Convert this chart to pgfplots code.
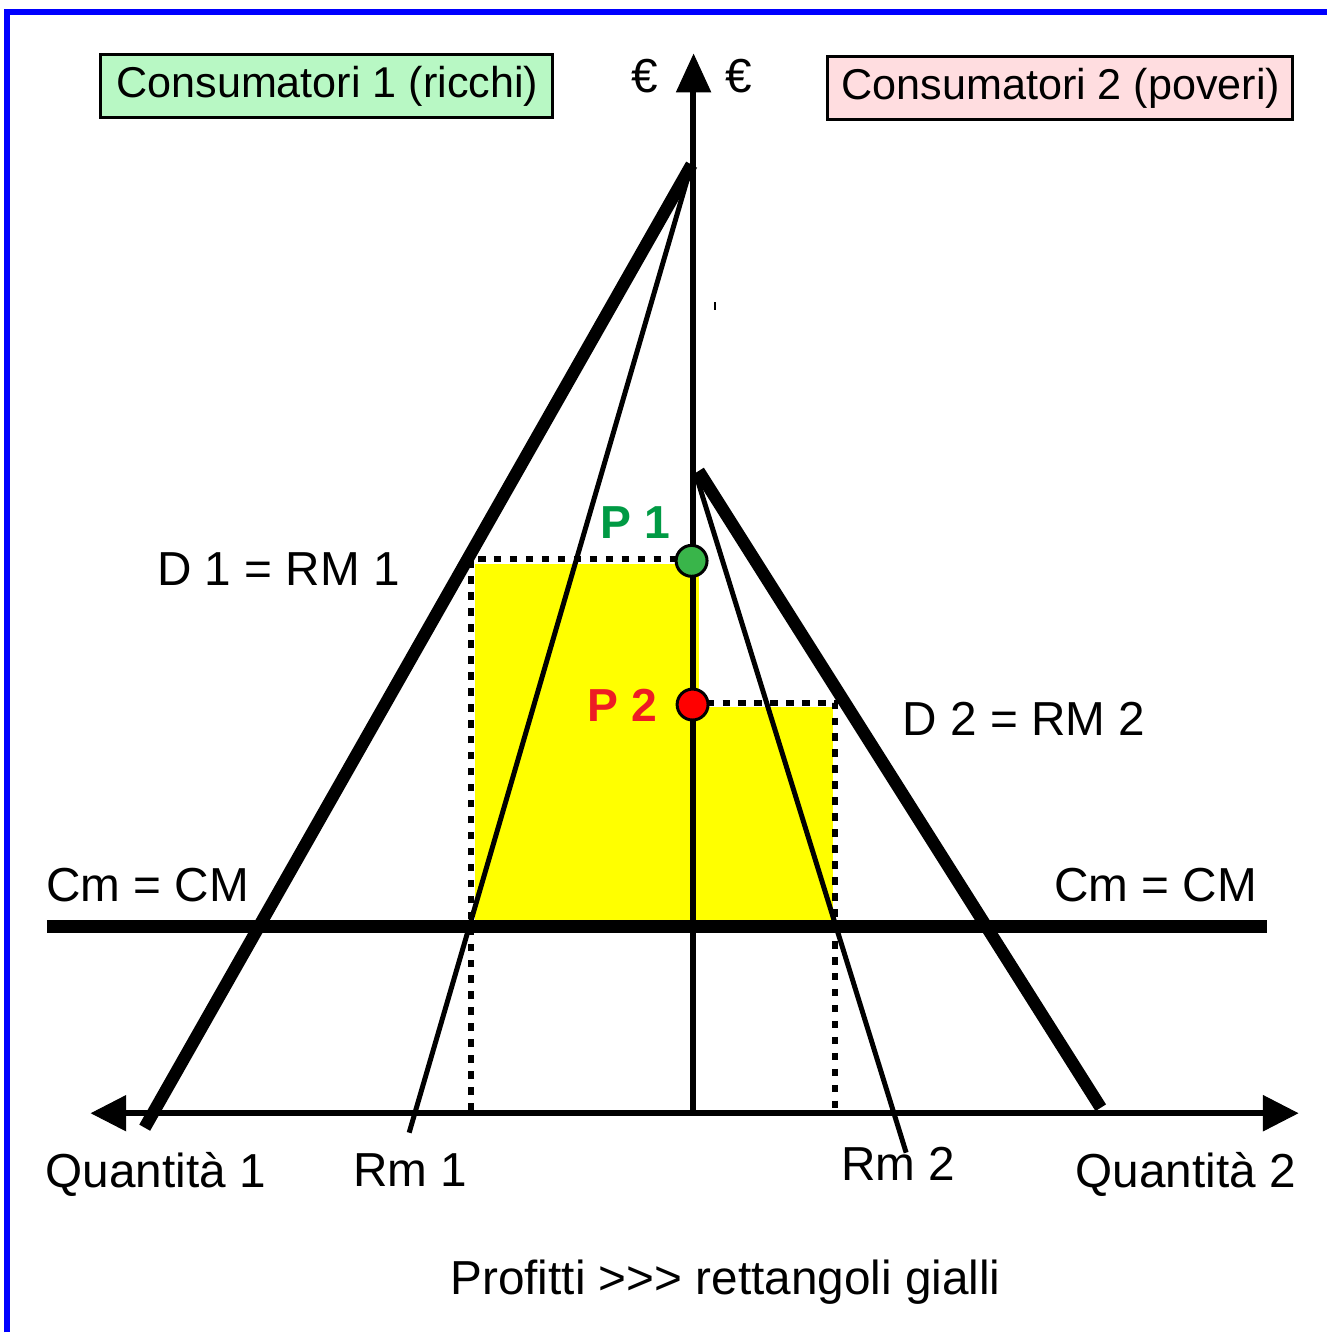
\documentclass[border=0pt]{standalone}
\usepackage{pgfplots}
\pgfplotsset{compat=1.18}
\usepackage{fontspec}
\setmainfont{Liberation Sans}
\definecolor{boxgreen}{RGB}{184,248,196}
\definecolor{boxpink}{RGB}{255,221,224}
\definecolor{ptgreen}{RGB}{0,154,68}
\definecolor{dotgreen}{RGB}{57,181,74}
\definecolor{ptred}{RGB}{237,28,36}
\definecolor{pureyellow}{RGB}{255,255,0}
\definecolor{purered}{RGB}{255,0,0}
\definecolor{pureblue}{RGB}{0,0,255}
\begin{document}
\begin{tikzpicture}
\begin{axis}[hide axis, scale only axis, width=133mm, height=133.5mm,
  xmin=0, xmax=1330, ymin=0, ymax=1335, y dir=reverse, clip=false]
% bounding
\addplot[draw=none] coordinates {(0,0) (1330,1335)};
% blue frame
\addplot[draw=pureblue, line width=0.55mm, line join=miter] coordinates {(7,1335) (7,12) (1330,12)};
% yellow profit rectangles
\addplot[fill=pureyellow, draw=none] coordinates {(476,565) (700,565) (700,928) (476,928)} -- cycle;
\addplot[fill=pureyellow, draw=none] coordinates {(694,708) (835,708) (835,928) (694,928)} -- cycle;
% dotted lines
\addplot[black, line width=0.6mm, dash pattern=on 0.75mm off 0.85mm] coordinates {(472,1113) (472,560) (680,560)};
\addplot[black, line width=0.6mm, dash pattern=on 0.75mm off 0.85mm] coordinates {(708,704) (837,704) (837,1113)};
% Cm = CM line
\addplot[black, line width=1.3mm] coordinates {(47,928) (1270,928)};
% demand lines
\addplot[black, line width=1.25mm] coordinates {(693,165) (145,1130)};
\addplot[black, line width=1.25mm] coordinates {(700,472) (1103,1110)};
% marginal revenue lines
\addplot[black, line width=0.5mm] coordinates {(693,165) (410,1135)};
\addplot[black, line width=0.5mm] coordinates {(698,478) (908,1155)};
% axes
\addplot[black, line width=0.6mm] coordinates {(694.5,1118) (694.5,85)};
\addplot[black, fill=black, line width=0.1mm] coordinates {(695,55) (678,92) (712,92)} -- cycle;
\addplot[black, line width=0.6mm] coordinates {(120,1115.5) (1272,1115.5)};
\addplot[black, fill=black, line width=0.1mm] coordinates {(92,1115.5) (126,1098) (126,1133)} -- cycle;
\addplot[black, fill=black, line width=0.1mm] coordinates {(1300,1115.5) (1266,1098) (1266,1133)} -- cycle;
% small artifact
\addplot[black, line width=0.2mm] coordinates {(716,303) (716,311)};
% price points
\addplot[only marks, mark=*, mark size=1.55mm, mark options={fill=dotgreen, draw=black, line width=0.3mm}] coordinates {(693,562)};
\addplot[only marks, mark=*, mark size=1.55mm, mark options={fill=purered, draw=black, line width=0.3mm}] coordinates {(694,706)};
% boxes
\addplot[fill=boxgreen, draw=black, line width=0.3mm] coordinates {(101,55) (554,55) (554,118) (101,118)} -- cycle;
\addplot[fill=boxpink, draw=black, line width=0.3mm] coordinates {(829,57) (1295,57) (1295,120) (829,120)} -- cycle;
% texts
\node[anchor=base, inner sep=0pt, font=\fontsize{12.3}{14}\selectfont] at (axis cs:328,98) {Consumatori 1 (ricchi)};
\node[anchor=base, inner sep=0pt, font=\fontsize{12.3}{14}\selectfont] at (axis cs:1063,100) {Consumatori 2 (poveri)};
\node[anchor=base, inner sep=0pt, font=\fontsize{13.6}{16}\selectfont] at (axis cs:646,93) {€};
\node[anchor=base, inner sep=0pt, font=\fontsize{13.6}{16}\selectfont] at (axis cs:740,93) {€};
\node[anchor=base, inner sep=0pt, font=\fontsize{13.6}{16}\selectfont] at (axis cs:279,587) {D 1 = RM 1};
\node[anchor=base, inner sep=0pt, font=\fontsize{13.2}{16}\selectfont\bfseries, text=ptgreen] at (axis cs:637,540) {P 1};
\node[anchor=base, inner sep=0pt, font=\fontsize{13.2}{16}\selectfont\bfseries, text=ptred] at (axis cs:624,723) {P 2};
\node[anchor=base, inner sep=0pt, font=\fontsize{13.6}{16}\selectfont] at (axis cs:1026,737) {D 2 = RM 2};
\node[anchor=base, inner sep=0pt, font=\fontsize{13.6}{16}\selectfont] at (axis cs:148,903) {Cm = CM};
\node[anchor=base, inner sep=0pt, font=\fontsize{13.6}{16}\selectfont] at (axis cs:1158,903) {Cm = CM};
\node[anchor=base, inner sep=0pt, font=\fontsize{13.6}{16}\selectfont] at (axis cs:156,1190) {Quantità 1};
\node[anchor=base, inner sep=0pt, font=\fontsize{13.6}{16}\selectfont] at (axis cs:411,1189) {Rm 1};
\node[anchor=base, inner sep=0pt, font=\fontsize{13.6}{16}\selectfont] at (axis cs:900,1183) {Rm 2};
\node[anchor=base, inner sep=0pt, font=\fontsize{13.6}{16}\selectfont] at (axis cs:1188,1190) {Quantità 2};
\node[anchor=base, inner sep=0pt, font=\fontsize{13.6}{16}\selectfont] at (axis cs:727,1297) {Profitti >{}>{}> rettangoli gialli};
\end{axis}
\end{tikzpicture}
\end{document}
